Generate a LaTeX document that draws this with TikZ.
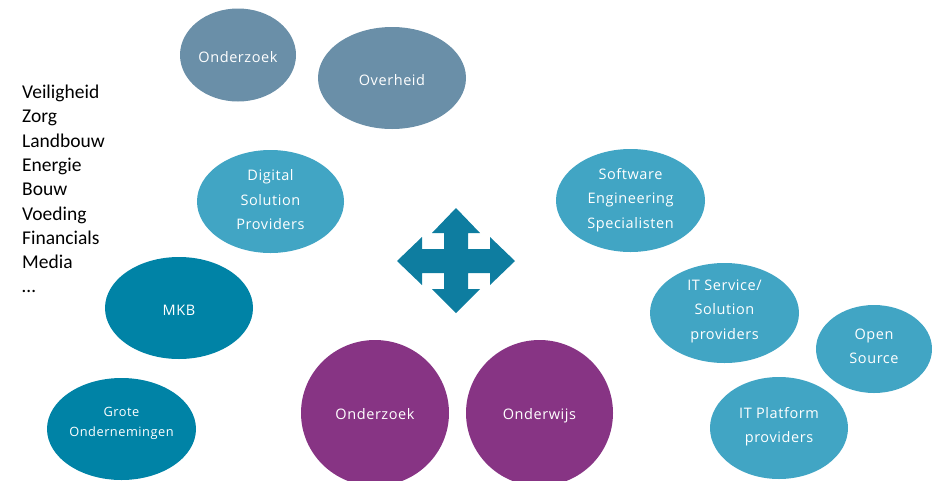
\documentclass[tikz,border=0pt]{standalone}
\usepackage{fontspec}
\setmainfont{Carlito}
\newfontfamily\bubblefont[LetterSpace=4]{Open Sans}
\usetikzlibrary{shapes.geometric}

\definecolor{slateblue}{HTML}{6A8FA8}
\definecolor{lightteal}{HTML}{41A5C4}
\definecolor{darkteal}{HTML}{0083A6}
\definecolor{arrowteal}{HTML}{0E7DA0}
\definecolor{plum}{HTML}{873484}

\tikzset{
  bubble/.style={ellipse, inner sep=0pt, fill=#1},
  caption/.style={inner sep=0pt, text=white, align=center,
    font=\bubblefont\fontsize{14.5}{24.5}\selectfont},
  smallcaption/.style={caption, font=\bubblefont\fontsize{12.8}{20}\selectfont},
  sector/.style={anchor=base west, inner sep=0pt,
    font=\fontsize{19.5}{24}\selectfont},
}

\begin{document}
\begin{tikzpicture}[x=1pt,y=-1pt]
\useasboundingbox (0,0) rectangle (932,480);

% sectors listed on the left
\foreach \word [count=\i] in {Veiligheid,Zorg,Landbouw,Energie,Bouw,Voeding,Financials,Media,\dots}
  \node[sector] (sector\i) at (22,{98.5+24.3*(\i-1)}) {\word};

% government and research (top)
\node[bubble=slateblue, minimum width=116pt, minimum height=93pt,
  label={[caption, yshift=-2pt]center:Onderzoek}] (onderzoekTop) at (238,55) {};
\node[bubble=slateblue, minimum width=148pt, minimum height=102pt,
  label={[caption, yshift=-2pt]center:Overheid}] (overheid) at (392,78) {};

% businesses (left)
\node[bubble=lightteal, minimum width=147pt, minimum height=103pt,
  label={[caption, yshift=1.5pt]center:{Digital\\Solution\\Providers}}] (digital) at (270.5,201.5) {};
\node[bubble=darkteal, minimum width=148pt, minimum height=102pt,
  label={[caption, yshift=-2pt]center:MKB}] (mkb) at (179,308) {};
\node[bubble=darkteal, minimum width=149pt, minimum height=102pt,
  label={[smallcaption, yshift=6pt]center:{Grote\\Ondernemingen}}] (grote) at (121.5,429) {};

% knowledge institutes (bottom)
\node[bubble=plum, minimum width=148pt, minimum height=146pt,
  label={[caption, yshift=-1pt]center:Onderzoek}] (onderzoekBottom) at (375,413) {};
\node[bubble=plum, minimum width=147pt, minimum height=146pt,
  label={[caption, yshift=-3pt]center:Onderwijs}] (onderwijs) at (539.5,413) {};

% IT sector (right)
\node[bubble=lightteal, minimum width=149pt, minimum height=103pt,
  label={[caption, yshift=0.5pt]center:{Software\\Engineering\\Specialisten}}] (software) at (630.5,200.5) {};
\node[bubble=lightteal, minimum width=149pt, minimum height=100pt,
  label={[caption, yshift=2pt]center:{IT Service/\\Solution\\providers}}] (itservice) at (724.5,313) {};
\node[bubble=lightteal, minimum width=116pt, minimum height=88pt,
  label={[caption, yshift=2.5pt]center:{Open\\Source}}] (opensource) at (874,349) {};
\node[bubble=lightteal, minimum width=138pt, minimum height=102pt,
  label={[caption, yshift=1.5pt]center:{IT Platform\\providers}}] (platform) at (779,428) {};

% four-way arrow in the middle
\fill[arrowteal]
  (456,208) -- (480,233) -- (468,233) -- (468,249) -- (490,249) -- (490,237)
  -- (515,261) -- (490,285) -- (490,273) -- (468,273) -- (468,289) -- (480,289)
  -- (456,313) -- (432,289) -- (444,289) -- (444,273) -- (422,273) -- (422,285)
  -- (397,261) -- (422,237) -- (422,249) -- (444,249) -- (444,233) -- (432,233)
  -- cycle;
\end{tikzpicture}
\end{document}
